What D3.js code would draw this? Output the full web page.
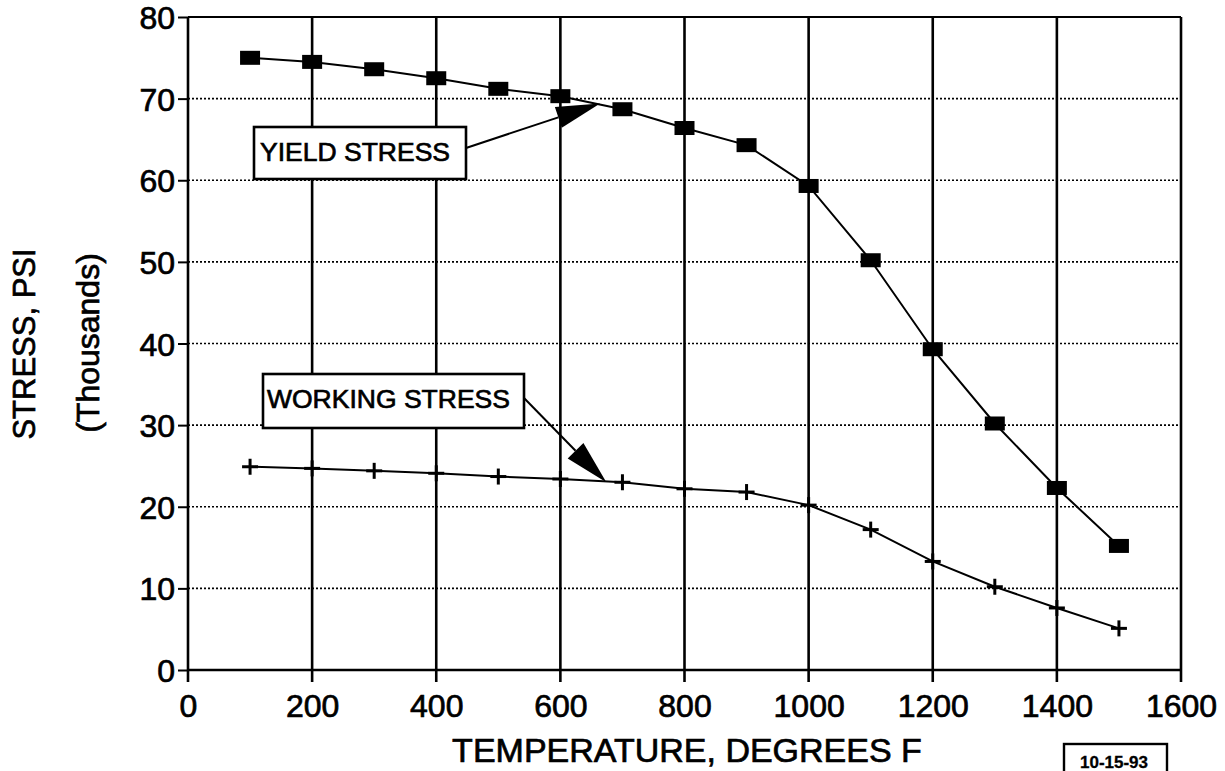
<!DOCTYPE html>
<html>
<head>
<meta charset="utf-8">
<script src="https://cdn.jsdelivr.net/npm/d3@7"></script>
<style>
  html, body { margin: 0; padding: 0; background: #fff; }
  svg { display: block; font-family: "Liberation Sans", Arial, Helvetica, sans-serif; }
  svg text { fill: #000; stroke: #000; stroke-width: 0.7px; }
</style>
</head>
<body>
<svg id="chart" width="1225" height="771"></svg>
<script>
// Temperature (deg F) at which each stress was measured
const temperatures = [100, 200, 300, 400, 500, 600, 700, 800, 900, 1000, 1100, 1200, 1300, 1400, 1500];
// Stress, thousands of PSI
const yieldStress   = [75.0, 74.5, 73.6, 72.5, 71.2, 70.3, 68.7, 66.4, 64.3, 59.3, 50.2, 39.3, 30.2, 22.3, 15.2];
const workingStress = [24.9, 24.7, 24.4, 24.1, 23.7, 23.4, 23.0, 22.2, 21.8, 20.2, 17.2, 13.3, 10.2, 7.6, 5.1];
// Axis ticks
const xTicks = [0, 200, 400, 600, 800, 1000, 1200, 1400, 1600];
const yTicks = [0, 10, 20, 30, 40, 50, 60, 70, 80];
// Annotation callouts: label and the point on the curve the arrow touches
const callouts = [
  { label: "YIELD STRESS",   at: [664, 69.4] },
  { label: "WORKING STRESS", at: [674, 23.0] }
];

const svg = d3.select("#chart");
const x = d3.scaleLinear().domain([0, 1600]).range([188, 1181]);
const y = d3.scaleLinear().domain([0, 80]).range([670, 17]);

// horizontal dotted grid
svg.append("g")
  .selectAll("line")
  .data(yTicks.filter(v => v > 0 && v < 80))
  .join("line")
  .attr("x1", x(0)).attr("x2", x(1600))
  .attr("y1", d => y(d)).attr("y2", d => y(d))
  .attr("stroke", "#000").attr("stroke-width", 1.6)
  .attr("stroke-dasharray", "2,2");

// top frame line
svg.append("line")
  .attr("x1", x(0)).attr("x2", x(1600))
  .attr("y1", y(80)).attr("y2", y(80))
  .attr("stroke", "#000").attr("stroke-width", 2);

// vertical solid grid (including the left edge)
svg.append("g")
  .selectAll("line")
  .data(xTicks)
  .join("line")
  .attr("x1", d => x(d)).attr("x2", d => x(d))
  .attr("y1", y(80)).attr("y2", y(0) + 12)
  .attr("stroke", "#000").attr("stroke-width", 2.6);

// bottom axis line
svg.append("line")
  .attr("x1", x(0)).attr("x2", x(1600))
  .attr("y1", y(0)).attr("y2", y(0))
  .attr("stroke", "#000").attr("stroke-width", 2.6);

// y ticks and labels
const yAxis = d3.axisLeft(y).tickValues(yTicks).tickSize(10).tickPadding(3).tickFormat(d3.format("d"));
const gy = svg.append("g").attr("transform", `translate(${x(0)},0)`).call(yAxis);
gy.select(".domain").remove();
gy.selectAll(".tick line").attr("stroke", "#000").attr("stroke-width", 2);
gy.selectAll(".tick text")
  .attr("font-size", 32).attr("fill", "#000")
  .attr("font-family", "'Liberation Sans', Arial, sans-serif")
  .attr("dy", "0.36em");

// x labels (tick lines are the grid extensions)
const xAxis = d3.axisBottom(x).tickValues(xTicks).tickSize(0).tickPadding(24).tickFormat(d3.format("d"));
const gx = svg.append("g").attr("transform", `translate(0,${y(0)})`).call(xAxis);
gx.select(".domain").remove();
gx.selectAll(".tick text")
  .attr("font-size", 32).attr("fill", "#000")
  .attr("font-family", "'Liberation Sans', Arial, sans-serif");

// axis titles
svg.append("text")
  .attr("x", 687).attr("y", 762)
  .attr("text-anchor", "middle")
  .attr("font-size", 34)
  .text("TEMPERATURE, DEGREES F");

svg.append("text")
  .attr("transform", "translate(35,344) rotate(-90)")
  .attr("text-anchor", "middle")
  .attr("font-size", 31)
  .text("STRESS, PSI");

svg.append("text")
  .attr("transform", "translate(99,343) rotate(-90)")
  .attr("text-anchor", "middle")
  .attr("font-size", 32)
  .text("(Thousands)");

// series lines
const line = d3.line().x(d => x(d[0])).y(d => y(d[1]));
const yieldPts = temperatures.map((t, i) => [t, yieldStress[i]]);
const workPts  = temperatures.map((t, i) => [t, workingStress[i]]);

svg.append("path").datum(yieldPts).attr("d", line)
  .attr("fill", "none").attr("stroke", "#000").attr("stroke-width", 2);
svg.append("path").datum(workPts).attr("d", line)
  .attr("fill", "none").attr("stroke", "#000").attr("stroke-width", 2);

// yield markers: filled squares
svg.append("g").selectAll("rect")
  .data(yieldPts)
  .join("rect")
  .attr("x", d => x(d[0]) - 10).attr("y", d => y(d[1]) - 7)
  .attr("width", 20).attr("height", 14)
  .attr("fill", "#000");

// working markers: plus signs
const plus = svg.append("g").selectAll("g")
  .data(workPts)
  .join("g")
  .attr("transform", d => `translate(${x(d[0])},${y(d[1])})`);
plus.append("line").attr("x1", -8).attr("x2", 8).attr("y1", 0).attr("y2", 0)
  .attr("stroke", "#000").attr("stroke-width", 3);
plus.append("line").attr("x1", 0).attr("x2", 0).attr("y1", -8).attr("y2", 8)
  .attr("stroke", "#000").attr("stroke-width", 3);

// callouts: boxed label with a leader ending in a filled arrowhead
const boxes = [
  { x0: 254, y0: 127, x1: 466, y1: 179, tx: 260, ty: 161, lx: 466, ly: 148 },
  { x0: 263, y0: 374, x1: 524, y1: 428, tx: 267, ty: 408, lx: 524, ly: 398 }
];
callouts.forEach((c, i) => {
  const b = boxes[i];
  const tipX = x(c.at[0]), tipY = y(c.at[1]);
  const dx = tipX - b.lx, dy = tipY - b.ly;
  const len = Math.hypot(dx, dy);
  const ux = dx / len, uy = dy / len;
  const headLen = 44, headHalf = 11;
  const bx = tipX - ux * headLen, by = tipY - uy * headLen;

  svg.append("rect")
    .attr("x", b.x0).attr("y", b.y0)
    .attr("width", b.x1 - b.x0).attr("height", b.y1 - b.y0)
    .attr("fill", "#fff").attr("stroke", "#000").attr("stroke-width", 2.6);
  svg.append("text")
    .attr("x", b.tx).attr("y", b.ty)
    .attr("font-size", 26.5)
    .text(c.label);
  svg.append("line")
    .attr("x1", b.lx).attr("y1", b.ly).attr("x2", bx).attr("y2", by)
    .attr("stroke", "#000").attr("stroke-width", 2);
  svg.append("polygon")
    .attr("points", [
      [tipX, tipY],
      [bx - uy * headHalf, by + ux * headHalf],
      [bx + uy * headHalf, by - ux * headHalf]
    ].map(p => p.join(",")).join(" "))
    .attr("fill", "#000");
});

// date stamp
svg.append("rect")
  .attr("x", 1064).attr("y", 744).attr("width", 103).attr("height", 40)
  .attr("fill", "none").attr("stroke", "#000").attr("stroke-width", 2.4);
svg.append("text")
  .attr("x", 1114).attr("y", 768)
  .attr("text-anchor", "middle")
  .attr("font-size", 17).attr("font-weight", "bold")
  .style("stroke-width", "0.3px")
  .text("10-15-93");
</script>
</body>
</html>
